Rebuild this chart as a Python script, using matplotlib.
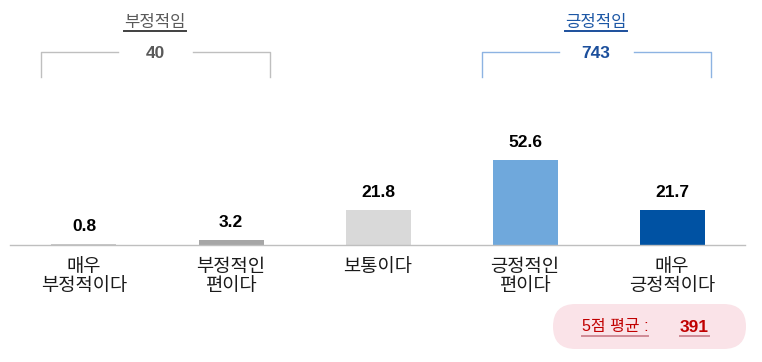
import matplotlib.pyplot as plt
from matplotlib.patches import FancyBboxPatch

plt.rcParams['font.family'] = ['Liberation Sans', 'Noto Sans CJK KR']

categories = ['매우\n부정적이다', '부정적인\n편이다', '보통이다', '긍정적인\n편이다', '매우\n긍정적이다']
values = [0.8, 3.2, 21.8, 52.6, 21.7]
bar_colors = ['#c8c8c8', '#a6a6a6', '#d9d9d9', '#6fa8dc', '#0052a3']
neg_title, neg_total = '부정적임', '40'
pos_title, pos_total = '긍정적임', '743'
avg_label, avg_value = '5점 평균 :', '391'

W, H = 762, 362
fig = plt.figure(figsize=(W / 100, H / 100), dpi=100)
ax = fig.add_axes([0, 0, 1, 1])
ax.axis('off')

# pixel layout: bar centres at 84 + 147*i, baseline 245 px from top
step, x0, base, ppu = 147, 84, 245, 1.616
ax.set_xlim(-x0 / step, (W - x0) / step)
ax.set_ylim(-(H - base) / ppu, base / ppu)

xs = list(range(len(values)))
ax.bar(xs, values, width=65 / step, color=bar_colors, zorder=2)
ax.plot([(10 - x0) / step, (745 - x0) / step], [0, 0], color='#bfbfbf', lw=1, zorder=3)

for x, v, cat in zip(xs, values, categories):
    ax.annotate(f'{v}', (x, v), xytext=(0, 12.5), textcoords='offset points',
                ha='center', va='center', fontsize=12.5, fontweight='bold', color='black')
    ax.annotate(cat, (x, 0), xytext=(0, -10), textcoords='offset points',
                ha='center', va='top', fontsize=13.5, color='#1a1a1a', linespacing=1.18)

# overlay in pixel units (y down) for the decorations
ov = fig.add_axes([0, 0, 1, 1])
ov.set_xlim(0, W)
ov.set_ylim(H, 0)
ov.axis('off')
ov.patch.set_alpha(0)

texts = []
for cx, title, total, tcol, lcol, ncol in [(155, neg_title, neg_total, '#595959', '#bfbfbf', '#595959'),
                                           (596, pos_title, pos_total, '#1c57a5', '#8db3e2', '#1c4f9c')]:
    t = ov.text(cx, 22, title, ha='center', va='center', fontsize=12, color=tcol)
    texts.append((t, '#404040' if title == neg_title else '#1c4f9c'))
    ov.text(cx, 53, total, ha='center', va='center', fontsize=12.5, fontweight='bold', color=ncol)
    left, right = cx - 114, cx + 115
    ov.plot([left, left, cx - 37], [77, 52, 52], color=lcol, lw=1)
    ov.plot([cx + 38, right, right], [52, 52, 77], color=lcol, lw=1)

# average pill
pl, pt, pw, ph = 553, 304, 193, 45
pill = FancyBboxPatch((pl + ph / 2, pt + ph / 2), pw - ph, 0,
                      boxstyle=f'round,pad={ph / 2}',
                      facecolor='#fae3e8', edgecolor='none')
ov.add_patch(pill)
t1 = ov.text(615, 327, avg_label, ha='center', va='center', fontsize=11.5, color='#c00000')
t2 = ov.text(694, 327, avg_value, ha='center', va='center', fontsize=12.5,
             fontweight='bold', color='#c00000')
texts += [(t1, '#cf8a95'), (t2, '#cf8a95')]

fig.canvas.draw()
renderer = fig.canvas.get_renderer()
for t, c in texts:
    bb = t.get_window_extent(renderer)
    y = H - bb.y0 + 1.5
    ov.plot([bb.x0, bb.x1], [y, y], color=c, lw=1.4)

fig.savefig('out.png', dpi=100)
